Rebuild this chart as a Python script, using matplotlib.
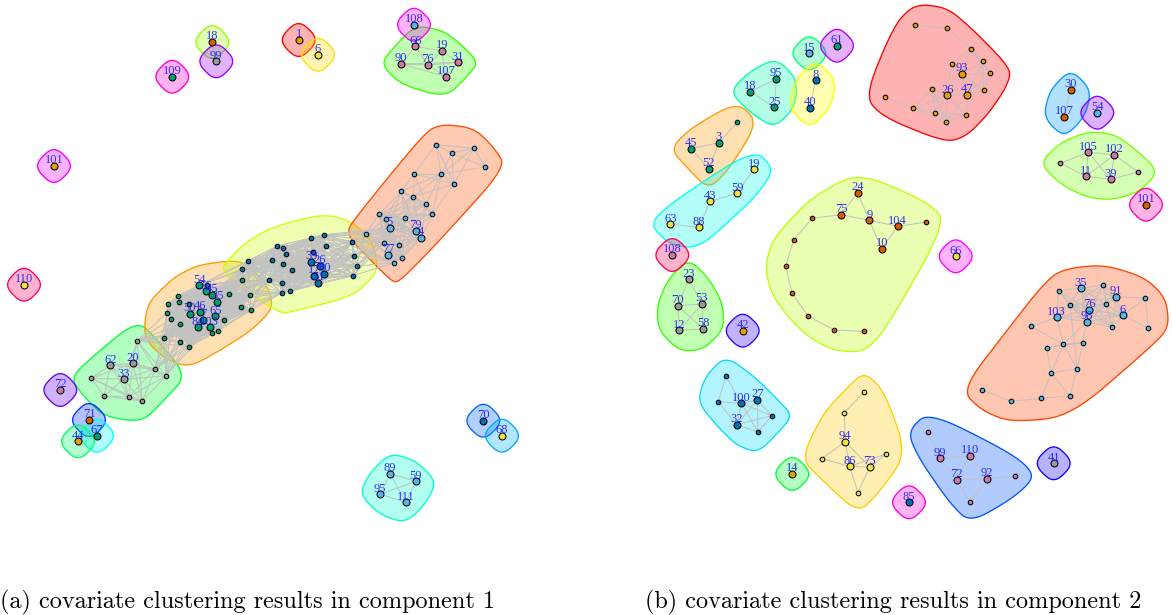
import numpy as np
import matplotlib
matplotlib.use("Agg")
import matplotlib.pyplot as plt
from matplotlib.collections import LineCollection
from matplotlib.patches import Polygon

ORANGE, SKY, GREEN, YELLOW, BLUE, VERM, PURPLE, GREY = (
    "#E69F00", "#56B4E9", "#009E73", "#F0E442", "#0072B2", "#D55E00", "#CC79A7", "#999999")

# ---------- panel (a): isolated vertices ----------
a_single_labels = ["110", "72", "71", "67", "44", "18", "99", "109", "1", "6", "108", "101", "70", "68"]
a_single_x = [24, 60.3, 89, 97, 78, 212.3, 216.3, 172.3, 298.7, 318, 414, 54, 483.3, 502]
a_single_y = [284.7, 390, 420, 435.7, 441.3, 42, 61.3, 76.7, 40, 54.7, 24.7, 166, 420.7, 435.7]
a_single_nodes = [YELLOW, PURPLE, VERM, GREEN, ORANGE, VERM, GREY, GREEN, ORANGE, YELLOW, SKY, ORANGE, BLUE, YELLOW]
a_single_hulls = ["#FF0066", "#6600FF", "#0033FF", "#00FFFF", "#00FF66", "#99FF00", "#9900FF", "#FF00CC",
                  "#FF0000", "#FFDD00", "#FF00FF", "#EE00FF", "#0066FF", "#00AAFF"]

# ---------- panel (a): grey cluster ----------
a_grey_labels = ["62", "20", "33", "", "", "", "", "", "", ""]
a_grey_x = [110.3, 132.7, 123.7, 137.3, 155, 166, 91.3, 104.3, 129, 142.3]
a_grey_y = [365.3, 363.3, 379.3, 340.7, 369, 375.7, 378.3, 396, 397, 401.3]
a_grey_edges = [(0, 1), (0, 2), (0, 6), (0, 7), (0, 4), (0, 8), (1, 2), (1, 3), (1, 4), (1, 5), (1, 6), (1, 8), (1, 9),
                (2, 3), (2, 4), (2, 5), (2, 6), (2, 7), (2, 8), (2, 9), (3, 4), (3, 5), (3, 9), (4, 5), (4, 8), (4, 9),
                (5, 8), (5, 9), (6, 7), (6, 8), (6, 9), (7, 8), (7, 9), (8, 9)]

# ---------- panel (a): green cluster ----------
a_green_labels = ["54", "56", "45", "35", "50", "46", "65", "84", "103", "7",
                  "", "", "", "", "", "", "", "", "", "", "", "", "", "", "", "", "", "", ""]
a_green_x = [199.3, 205.7, 212, 217.3, 189.7, 200.3, 215.3, 197.7, 209.7, 203.3,
             206.7, 178.3, 179, 167.7, 188.7, 167, 171.3, 180.3, 164.3, 180, 188.7,
             223.7, 218.3, 211.7, 229, 250.3, 241.3, 251, 242.3]
a_green_y = [285.3, 291.3, 295, 301.7, 313.7, 311.7, 316.3, 327.3, 327.3, 320,
             285.3, 295.7, 302, 304, 304, 312.7, 319, 324, 337.7, 341.7, 346.7,
             320, 330.7, 333.3, 293.7, 294.7, 307, 310, 280.3]
a_green_clique = list(range(29))

# ---------- panel (a): blue cluster ----------
a_blue_labels = ["39", "26", "80", "17", "51", "", "", "", "", "", "", "", "", "", "", "", "", "", "", "", "", ""]
a_blue_x = [311.3, 320, 324.3, 314.3, 318.3, 247.7, 242.3, 277.3, 283, 286, 271.7, 282.7, 291.7, 269, 282.3, 282,
            290, 310.7, 324, 326, 313.3, 352.3]
a_blue_y = [261.7, 265.7, 274, 275.7, 282.7, 261.3, 269.3, 246, 247.7, 254.3, 260.3, 264.3, 270.3, 280.3, 283, 293,
            291.3, 238.3, 234.7, 246.3, 252, 242.3]
a_blue_extra_x = [354.3, 356.7, 353]
a_blue_extra_y = [255.7, 266, 275.7]
a_blue_clique = list(range(21))
a_blue_right = [21, 22, 23, 24]
a_blue_fan = [0, 1, 2, 3, 4, 7, 9, 12, 14, 16, 17, 18, 19]

# ---------- panel (a): sky cluster ----------
a_sky_labels = ["5", "79", "4", "77", "", "", "", "", "", "", "", "", "", "", "", "", "", "", "", "", "", "", ""]
a_sky_x = [389.7, 415.7, 421, 388.3, 435.7, 451.7, 473.7, 485.3, 414.3, 441.3, 454, 401, 413.3, 426, 432.3, 379, 386,
           405.3, 365.7, 384, 398.7, 402.3, 394]
a_sky_y = [228, 230.7, 238, 254.7, 144.7, 153, 148.3, 167, 174, 174, 184, 191.3, 196.7, 204, 214, 214.3, 219,
           217.7, 233.7, 242.7, 244.7, 257.7, 262.7]
a_sky_edges = [(4, 5), (4, 6), (4, 8), (4, 9), (4, 10), (5, 6), (5, 7), (5, 9), (5, 10), (6, 7), (6, 9), (6, 10),
               (7, 9), (8, 9), (8, 10), (8, 11), (8, 12), (8, 13), (9, 10), (9, 11), (9, 12), (9, 13), (9, 14),
               (10, 12), (10, 14)]
a_sky_clique_mid = [11, 12, 13, 14, 15, 16, 17, 0, 1, 2]
a_sky_clique_low = [15, 16, 17, 18, 19, 20, 21, 22, 0, 1, 2, 3]

# ---------- panel (a): purple cluster ----------
a_purple_labels = ["66", "19", "90", "76", "31", "107"]
a_purple_x = [415.3, 441.7, 401.3, 427.7, 458, 446]
a_purple_y = [46.3, 51, 64, 65, 62.3, 76.7]
a_purple_edges = [(0, 1), (0, 2), (0, 3), (1, 3), (1, 4), (1, 5), (2, 3), (2, 4), (3, 4), (3, 5), (4, 5), (2, 5)]

# ---------- panel (a): aqua cluster ----------
a_aqua_labels = ["89", "59", "95", "111"]
a_aqua_x = [390, 415.7, 380.3, 406]
a_aqua_y = [473.7, 481.3, 494.3, 502.3]
a_aqua_edges = [(0, 1), (0, 2), (0, 3), (1, 2), (1, 3), (2, 3)]

# ---------- panel (b): isolated vertices ----------
b_single_labels = ["61", "108", "42", "66", "14", "85", "41", "54", "101"]
b_single_x = [837, 672.3, 742.7, 955.7, 792.3, 909, 1053.7, 1097.3, 1146]
b_single_y = [45.7, 255, 330.7, 256.3, 474, 502.3, 463.3, 112.7, 204.7]
b_single_nodes = [GREEN, PURPLE, ORANGE, YELLOW, ORANGE, BLUE, GREY, SKY, VERM]
b_single_hulls = ["#AA00FF", "#FF0055", "#3300FF", "#FF00FF", "#00FF33", "#FF00DD", "#1100FF", "#8800FF", "#FF00AA"]

# ---------- panel (b): clusters ----------
b_red_labels = ["93", "26", "47", "", "", "", "", "", "", "", "", "", "", "", "", ""]
b_red_x = [962, 947.3, 967, 915, 947, 971, 982.7, 951.7, 990.3, 983.7, 932.3, 885, 913.3, 935.3, 966.3, 946]
b_red_y = [74, 95.3, 94.7, 24.7, 28.3, 48.7, 61.3, 63.7, 73.3, 90.3, 89, 97.3, 108.3, 112.7, 115.3, 121.7]
b_red_edges = [(3, 4), (4, 5), (5, 6), (5, 7), (5, 8), (5, 0), (6, 8), (6, 0), (6, 9), (7, 0), (7, 1), (8, 0), (8, 9),
               (8, 2), (9, 0), (9, 2), (0, 2), (0, 1), (1, 2), (10, 1), (10, 13), (10, 15), (11, 12), (12, 13),
               (12, 1), (12, 15), (12, 10), (13, 1), (13, 15), (13, 14), (14, 15), (14, 1), (14, 2), (15, 1), (15, 2),
               (6, 2)]

b_lime_labels = ["24", "75", "9", "104", "10", "", "", "", "", "", "", "", ""]
b_lime_x = [857.7, 841, 869.3, 897.7, 881.7, 926.3, 812.3, 793.7, 785.7, 792, 808.3, 834.3, 863.7]
b_lime_y = [192.7, 214.7, 220.3, 226.3, 248.7, 222, 218.3, 239.7, 266.3, 293.3, 316.3, 330, 331.3]
b_lime_edges = [(0, 1), (0, 2), (1, 2), (2, 3), (2, 4), (3, 4), (3, 5), (1, 6), (6, 7), (7, 8), (8, 9), (9, 10),
                (10, 11), (11, 12)]

b_teal_labels = ["95", "18", "25"]
b_teal_x = [776.3, 750.3, 774.3]
b_teal_y = [79, 91.7, 107.3]
b_teal_edges = [(0, 1), (0, 2), (1, 2)]

b_mint_labels = ["15"]
b_mint_x = [809.3]
b_mint_y = [53.3]

b_lemon_labels = ["8", "40"]
b_lemon_x = [815.7, 809.7]
b_lemon_y = [80.3, 108]
b_lemon_edges = [(0, 1)]

b_peach_labels = ["", "3", "45", "52"]
b_peach_x = [737.3, 718.7, 691, 708.7]
b_peach_y = [122.3, 142.7, 148.7, 168.7]
b_peach_edges = [(0, 1), (1, 2), (1, 3), (2, 3)]

b_cyan_labels = ["19", "59", "43", "63", "88"]
b_cyan_x = [753.7, 737.3, 710, 670.3, 699]
b_cyan_y = [169.3, 193.3, 201.3, 224.3, 227.3]
b_cyan_edges = [(0, 1), (1, 2), (2, 4), (4, 3)]

b_leaf_labels = ["23", "70", "53", "12", "58"]
b_leaf_x = [688.7, 677.7, 702, 679.3, 703.3]
b_leaf_y = [279.3, 305.7, 304, 330.3, 329]
b_leaf_edges = [(0, 1), (0, 2), (1, 2), (1, 3), (1, 4), (2, 3), (2, 4), (3, 4)]

b_ice_labels = ["", "", "100", "27", "32", "", ""]
b_ice_x = [726, 718.3, 741.3, 757.3, 736.7, 771.7, 758]
b_ice_y = [376.3, 401.7, 403.3, 400, 424.7, 415.7, 432]
b_ice_edges = [(0, 1), (0, 2), (1, 2), (1, 4), (2, 3), (2, 4), (2, 5), (2, 6), (3, 4), (3, 5), (3, 6), (4, 5), (4, 6), (5, 6)]

b_gold_labels = ["", "", "94", "", "86", "73", "", ""]
b_gold_x = [864, 844.3, 845.3, 821.7, 849.7, 869.7, 886, 858]
b_gold_y = [392, 413, 441.7, 458.7, 466.3, 467, 454, 492.7]
b_gold_edges = [(0, 1), (1, 2), (2, 3), (2, 4), (2, 5), (3, 4), (4, 5), (4, 6), (5, 6), (4, 7), (5, 7)]

b_royal_labels = ["", "99", "110", "72", "92", "", ""]
b_royal_x = [928.3, 939.7, 969.7, 956.7, 986.7, 1015, 970]
b_royal_y = [432, 458.3, 455.7, 479.7, 479, 476, 502.3]
b_royal_edges = [(0, 1), (1, 2), (1, 3), (2, 3), (2, 4), (3, 4), (4, 5), (3, 6), (4, 6)]

b_coral_labels = ["35", "91", "76", "6", "103", "98", "", "", "", "", "", "", "", "", "", "", "", "", "", "", "", "", ""]
b_coral_x = [1080.7, 1116, 1089.3, 1122.7, 1056.7, 1086.7, 1058.7, 1103, 1070, 1105.7, 1145.3, 1112, 1148.3, 1031,
             1046.7, 1063.3, 1082.7, 1077.3, 1051, 982, 1011, 1041.3, 1070]
b_coral_y = [288.3, 296.7, 309.7, 315.3, 317.3, 321.7, 290.7, 285, 305.3, 304, 298.3, 327.3, 328.3, 326.3,
             347.7, 344.3, 342.7, 368.7, 373, 390, 401.3, 398.3, 396]
b_coral_clique = [0, 1, 2, 3, 5, 7, 8, 9, 11]
b_coral_edges = [(4, 8), (4, 6), (4, 2), (4, 5), (4, 0), (4, 3), (6, 0), (6, 8), (6, 5), (6, 2), (1, 10), (3, 10),
                 (3, 12), (10, 12), (4, 13), (13, 15), (4, 15), (14, 15), (15, 16), (14, 16), (5, 16), (5, 15),
                 (14, 18), (15, 17), (15, 18), (16, 17), (17, 18), (18, 21), (17, 22), (18, 22), (21, 22), (20, 21),
                 (19, 20), (8, 17)]

b_sky_labels = ["30", "107"]
b_sky_x = [1070.7, 1064]
b_sky_y = [90, 117]
b_sky_edges = [(0, 1)]

b_spring_labels = ["105", "102", "11", "39", "", ""]
b_spring_x = [1088.3, 1114.3, 1086, 1110.7, 1060.3, 1138]
b_spring_y = [152.3, 154.7, 176.3, 179.3, 163.3, 172]
b_spring_edges = [(0, 1), (0, 2), (0, 3), (0, 4), (1, 2), (1, 3), (1, 5), (2, 3), (2, 4), (3, 5)]

captions = ["(a) covariate clustering results in component 1", "(b) covariate clustering results in component 2"]
caption_x = [0, 645]


def clique(ids):
    return [(ids[i], ids[j]) for i in range(len(ids)) for j in range(i + 1, len(ids))]


def hull(points):
    pts = sorted(set(points))
    def half(seq):
        out = []
        for p in seq:
            while len(out) > 1 and ((out[-1][0] - out[-2][0]) * (p[1] - out[-2][1])
                                    - (out[-1][1] - out[-2][1]) * (p[0] - out[-2][0])) <= 0:
                out.pop()
            out.append(p)
        return out[:-1]
    return half(pts) + half(pts[::-1])


def f_blend(num, den):
    p = 2 * den * den
    u = num / den
    return u ** 3 * (10 - p + (2 * p - 15) * u + (6 - p) * u * u)


def xspline(ctrl, s=0.5, steps=24):
    P = np.array(ctrl, float)
    n = len(P)
    out = []
    for i in range(n):
        p0, p1, p2, p3 = P[i - 1], P[i], P[(i + 1) % n], P[(i + 2) % n]
        for t in np.linspace(0, 1, steps, endpoint=False):
            a0 = f_blend(t + 1 - (1 + s), -(1 + s)) if t + 1 < 1 + s else 0.0
            a2 = f_blend(t + 1 - (1 - s), 2 - (1 - s))
            a1 = f_blend(t + 1 - (2 + s), 1 - (2 + s))
            a3 = f_blend(t + 1 - (2 - s), 3 - (2 - s)) if t + 1 > 2 - s else 0.0
            w = a0 + a1 + a2 + a3
            out.append((a0 * p0 + a1 * p1 + a2 * p2 + a3 * p3) / w)
    return np.array(out)


fig = plt.figure(figsize=(11.72, 6.15), dpi=100)
ax = fig.add_axes([0, 0, 1, 1])
ax.set_xlim(0, 1172)
ax.set_ylim(615, 0)
ax.axis("off")

EXPAND = 20.8
EDGE = "#C2C2C2"


def draw_hull(x, y, color):
    pts = []
    for a, b in zip(x, y):
        pts += [(a, b), (a - EXPAND, b), (a + EXPAND, b), (a, b - EXPAND), (a, b + EXPAND)]
    curve = xspline(hull(pts))
    rgb = matplotlib.colors.to_rgb(color)
    ax.add_patch(Polygon(curve, closed=True, facecolor=rgb + (0.3,), edgecolor=rgb, lw=0.95, zorder=1))


def draw_edges(x, y, edges):
    segs = [[(x[i], y[i]), (x[j], y[j])] for i, j in edges]
    ax.add_collection(LineCollection(segs, colors=EDGE, linewidths=0.75, zorder=2))


def draw_nodes(x, y, labels, color):
    big = [i for i, t in enumerate(labels) if t]
    small = [i for i, t in enumerate(labels) if not t]
    ax.scatter([x[i] for i in small], [y[i] for i in small], s=11, c=color, edgecolors="black", linewidths=0.75, zorder=3)
    ax.scatter([x[i] for i in big], [y[i] for i in big], s=25, c=color, edgecolors="black", linewidths=0.75, zorder=3)
    for i in big:
        ax.text(x[i], y[i] - 2.7, labels[i], ha="center", va="baseline", family="Liberation Serif",
                fontsize=9, color="#1A1AFF", alpha=0.9, zorder=4)


a_blue_x_all = a_blue_x + a_blue_extra_x
a_blue_y_all = a_blue_y + a_blue_extra_y
a_blue_labels_all = a_blue_labels + ["", "", ""]
a_blue_edges = clique(a_blue_clique) + clique(a_blue_right) + [(i, j) for i in a_blue_fan for j in a_blue_right]

a_groups = [
    (a_grey_x, a_grey_y, a_grey_labels, a_grey_edges, GREY, "#00FF33"),
    (a_green_x, a_green_y, a_green_labels, clique(a_green_clique), GREEN, "#FF9900"),
    (a_blue_x_all, a_blue_y_all, a_blue_labels_all, a_blue_edges, BLUE, "#CCFF00"),
    (a_sky_x, a_sky_y, a_sky_labels, a_sky_edges + clique(a_sky_clique_mid) + clique(a_sky_clique_low), SKY, "#FF4D00"),
    (a_purple_x, a_purple_y, a_purple_labels, a_purple_edges, PURPLE, "#33FF00"),
    (a_aqua_x, a_aqua_y, a_aqua_labels, a_aqua_edges, SKY, "#00FFCC"),
]
b_groups = [
    (b_red_x, b_red_y, b_red_labels, b_red_edges, ORANGE, "#FF0000"),
    (b_lime_x, b_lime_y, b_lime_labels, b_lime_edges, VERM, "#BBFF00"),
    (b_teal_x, b_teal_y, b_teal_labels, b_teal_edges, GREEN, "#00FFAA"),
    (b_mint_x, b_mint_y, b_mint_labels, [], SKY, "#00FF77"),
    (b_lemon_x, b_lemon_y, b_lemon_labels, b_lemon_edges, BLUE, "#FFFF00"),
    (b_peach_x, b_peach_y, b_peach_labels, b_peach_edges, GREEN, "#FF9900"),
    (b_cyan_x, b_cyan_y, b_cyan_labels, b_cyan_edges, YELLOW, "#00FFEE"),
    (b_leaf_x, b_leaf_y, b_leaf_labels, b_leaf_edges, GREY, "#33FF00"),
    (b_ice_x, b_ice_y, b_ice_labels, b_ice_edges, BLUE, "#00DDFF"),
    (b_gold_x, b_gold_y, b_gold_labels, b_gold_edges, YELLOW, "#FFCC00"),
    (b_royal_x, b_royal_y, b_royal_labels, b_royal_edges, PURPLE, "#0055FF"),
    (b_coral_x, b_coral_y, b_coral_labels, clique(b_coral_clique) + b_coral_edges, SKY, "#FF4400"),
    (b_sky_x, b_sky_y, b_sky_labels, b_sky_edges, VERM, "#0099FF"),
    (b_spring_x, b_spring_y, b_spring_labels, b_spring_edges, PURPLE, "#77FF00"),
]

for x, y, lab, edges, nc, hc in a_groups + b_groups:
    draw_hull(x, y, hc)
for x, y, c in zip(a_single_x + b_single_x, a_single_y + b_single_y, a_single_hulls + b_single_hulls):
    draw_hull([x], [y], c)

# edges between neighbouring clusters of panel (a)
cross = [(a_grey_x, a_grey_y, [3, 4, 5], a_green_x, a_green_y, [18, 19, 20, 15, 16, 17, 7, 8]),
         (a_green_x, a_green_y, [0, 2, 3, 21, 24, 25, 26, 27, 28],
          a_blue_x, a_blue_y, [5, 6, 7, 10, 13, 15]),
         (a_blue_x_all, a_blue_y_all, [17, 18, 21, 22, 23, 24],
          a_sky_x, a_sky_y, [18, 19, 22, 0])]
for x1, y1, ids1, x2, y2, ids2 in cross:
    segs = [[(x1[i], y1[i]), (x2[j], y2[j])] for i in ids1 for j in ids2]
    ax.add_collection(LineCollection(segs, colors=EDGE, linewidths=0.75, zorder=2))

for x, y, lab, edges, nc, hc in a_groups + b_groups:
    draw_edges(x, y, edges)
for x, y, lab, edges, nc, hc in a_groups + b_groups:
    draw_nodes(x, y, lab, nc)
for x, y, t, c in zip(a_single_x + b_single_x, a_single_y + b_single_y,
                      a_single_labels + b_single_labels, a_single_nodes + b_single_nodes):
    draw_nodes([x], [y], [t], c)

for cx, text in zip(caption_x, captions):
    ax.text(cx, 608, text, family="cmr10", fontsize=17.45, ha="left", va="baseline", color="black")

fig.savefig("out.png", dpi=100)
